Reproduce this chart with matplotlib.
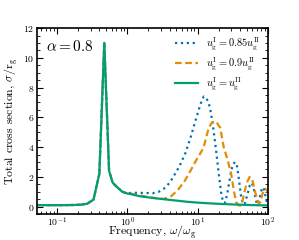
import numpy as np
import matplotlib
matplotlib.use("Agg")
import matplotlib.pyplot as plt
from matplotlib.ticker import MultipleLocator

plt.rcParams['font.family'] = 'serif'
plt.rcParams['font.serif'] = ['cmr10', 'DejaVu Serif']
plt.rcParams['mathtext.fontset'] = 'cm'
plt.rcParams['axes.formatter.use_mathtext'] = True

# shared low-frequency part (all three curves coincide here)
f_low = [0.05, 0.08, 0.12, 0.17, 0.22, 0.27, 0.33, 0.40, 0.47, 0.55, 0.62, 0.72, 0.85, 1.0]
s_low = [0.1, 0.1, 0.1, 0.11, 0.13, 0.2, 0.47, 2.2, 11.0, 2.4, 1.6, 1.3, 1.0, 0.88]

# u_I = u_II
f_eq = [1.1, 1.5, 2.0, 3.0, 4.5, 7.0, 10.0, 15.0, 22.0, 35.0, 55.0, 80.0, 100.0]
s_eq = [0.85, 0.7, 0.62, 0.52, 0.43, 0.33, 0.27, 0.22, 0.18, 0.14, 0.11, 0.09, 0.08]

# u_I = 0.85 u_II
f_85 = [1.1, 1.4, 1.8, 2.3, 2.8, 3.3, 4.0, 4.5, 5.5, 6.7, 8.0, 9.5, 11.0, 12.2,
        13.3, 14.5, 15.5, 17.0, 18.5, 20.0, 21.5, 23.0, 24.5, 26.5, 29.0, 31.5,
        34.0, 36.5, 39.0, 41.5, 44.0, 47.0, 51.0, 55.0, 59.0, 63.0, 67.0, 70.0,
        74.0, 78.0, 82.0, 86.0, 90.0, 94.0, 97.0, 100.0]
s_85 = [0.92, 0.93, 0.92, 0.9, 1.0, 1.2, 1.6, 2.0, 2.7, 3.6, 4.7, 5.9, 6.9, 7.4,
        7.3, 6.9, 6.3, 5.0, 3.6, 2.2, 1.0, 0.3, 0.25, 0.9, 2.0, 2.8,
        3.0, 2.7, 1.7, 0.7, 0.15, 0.2, 0.8, 1.4, 1.6, 1.2, 0.5, 0.15,
        0.3, 0.8, 1.2, 1.3, 1.0, 0.5, 0.3, 0.5]

# u_I = 0.9 u_II
f_90 = [1.1, 1.5, 2.0, 2.6, 3.3, 4.2, 5.2, 6.5, 7.9, 9.5, 11.0, 12.2, 14.4, 16.0,
        17.5, 19.0, 21.0, 23.5, 26.5, 30.0, 33.0, 35.5, 38.0, 40.5, 43.0, 46.0,
        50.0, 55.0, 60.0, 65.0, 70.0, 74.0, 78.0, 83.0, 88.0, 93.0, 97.0, 100.0]
s_90 = [0.88, 0.75, 0.65, 0.56, 0.52, 0.7, 1.1, 1.7, 2.4, 3.1, 3.6, 4.0, 5.3, 5.65,
        5.75, 5.6, 5.3, 4.0, 3.2, 2.2, 1.0, 0.3, 0.1, 0.07, 0.3, 0.9,
        1.6, 2.0, 1.8, 1.1, 0.5, 0.2, 0.3, 0.8, 1.15, 1.2, 1.05, 0.9]

blue = '#0173b2'
orange = '#de8f05'
green = '#029e73'

fig = plt.figure(figsize=(2.99, 2.40), dpi=100)
ax = fig.add_axes([0.124, 0.108, 0.772, 0.775])

ax.plot(f_low + f_85, s_low + s_85, color=blue, ls=':', lw=1.6,
        label=r'$u_\mathrm{g}^\mathrm{I} = 0.85u_\mathrm{g}^\mathrm{II}$')
ax.plot(f_low + f_90, s_low + s_90, color=orange, ls=(0, (3, 1.6)), lw=1.6,
        label=r'$u_\mathrm{g}^\mathrm{I} = 0.9u_\mathrm{g}^\mathrm{II}$')
ax.plot(f_low + f_eq, s_low + s_eq, color=green, ls='-', lw=1.6,
        label=r'$u_\mathrm{g}^\mathrm{I} = u_\mathrm{g}^\mathrm{II}$')

ax.set_xscale('log')
ax.set_xlim(0.052, 100)
ax.set_ylim(-0.5, 12)
ax.yaxis.set_major_locator(MultipleLocator(2))
ax.yaxis.set_minor_locator(MultipleLocator(0.5))
ax.tick_params(which='both', direction='in', top=True, right=True, labelsize=7, pad=2)
ax.tick_params(axis='x', which='both', pad=1)
ax.tick_params(which='major', length=4, width=0.8)
ax.tick_params(which='minor', length=2.2, width=0.6)
for s in ax.spines.values():
    s.set_linewidth(1.2)

ax.set_xlabel(r'Frequency, $\omega/\omega_\mathrm{g}$', fontsize=8.6)
ax.xaxis.set_label_coords(0.5, -0.052)
ax.set_ylabel(r'Total cross section, $\sigma/\mathrm{r}_\mathrm{g}$', fontsize=8.5, labelpad=2)
ax.text(0.04, 0.9, r'$\alpha = 0.8$', transform=ax.transAxes, fontsize=11,
        va='center', ha='left')
ax.legend(loc='upper right', frameon=False, fontsize=7.5, handlelength=2.2,
          borderaxespad=0.3, labelspacing=0.3)

fig.savefig('out.png', dpi=100)
